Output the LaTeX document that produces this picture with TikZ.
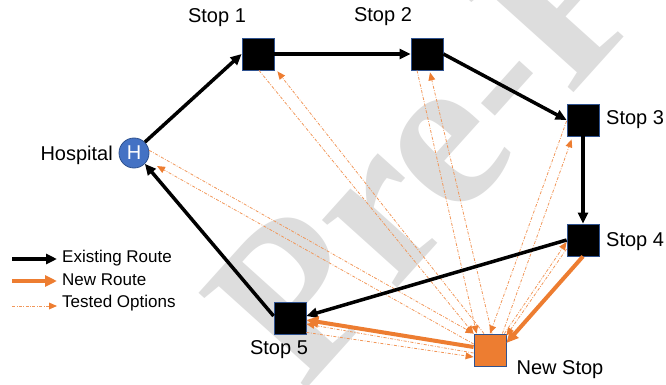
\documentclass[tikz,border=0pt]{standalone}
\usepackage{fontspec}
\setmainfont{Liberation Sans}
\newfontfamily\wmfamily{Liberation Serif}
\usetikzlibrary{arrows.meta,calc}

\definecolor{routeorange}{HTML}{ED7D31}
\definecolor{hospblue}{HTML}{4472C4}
\definecolor{edgeblue}{HTML}{2F528F}
\definecolor{wmgray}{HTML}{DDDDDD}

\tikzset{
  stopbox/.style={draw=edgeblue, line width=0.8pt, fill=black, minimum size=32pt, inner sep=0pt},
  newbox/.style={draw=edgeblue, line width=0.8pt, fill=routeorange, minimum size=32pt, inner sep=0pt},
  hosp/.style={circle, draw=edgeblue, line width=0.8pt, fill=hospblue, minimum size=30pt, inner sep=0pt,
    text=white, font=\fontsize{20}{24}\selectfont},
  lbl/.style={font=\fontsize{20}{24}\selectfont, inner sep=0pt},
  legtext/.style={font=\fontsize{17}{20}\selectfont, inner sep=0pt, anchor=west},
  existing/.style={line width=3.5pt, -{Triangle[length=11pt,width=10pt]}},
  newroute/.style={line width=4pt, routeorange, -{Triangle[length=12pt,width=11pt]}},
  tested/.style={line width=0.8pt, draw=routeorange!80!white,
    dash pattern=on 3pt off 1.5pt on 0.8pt off 1.5pt,
    -{Triangle[length=8pt,width=7pt,fill=routeorange,line width=0pt]}},
}

\begin{document}
\begin{tikzpicture}[x=1pt, y=-1pt]
  \useasboundingbox (0,0) rectangle (666,385);
  \begin{scope}
    \clip (0,0) rectangle (666,385);
    % faint background stamp
    \node[rotate=48, anchor=base west, text=wmgray, inner sep=0pt,
      font=\wmfamily\bfseries\fontsize{220}{220}\selectfont] (stamp) at (303,393) {Pre-Proof};
  \end{scope}

  % stops
  \node[hosp] (H) at (134,153) {H};
  \node[stopbox] (s1) at (258,54) {};
  \node[stopbox] (s2) at (427,54) {};
  \node[stopbox] (s3) at (583,120) {};
  \node[stopbox] (s4) at (583,240) {};
  \node[stopbox] (s5) at (290,318) {};
  \node[newbox] (ns) at (490,350) {};

  % labels
  \node[lbl] (lH) at (113,155) [anchor=east] {Hospital};
  \node[lbl] (l1) at (217,18) {Stop 1};
  \node[lbl] (l2) at (383,17) {Stop 2};
  \node[lbl, anchor=west] (l3) at (606,120) {Stop 3};
  \node[lbl, anchor=west] (l4) at (606,242) {Stop 4};
  \node[lbl] (l5) at (279,350) {Stop 5};
  \node[lbl] (lN) at (560,370) {New Stop};

  % tested options: each stop to the new stop and back
  \draw[tested] (H.10) -- (ns.north west);
  \draw[tested] ($(ns.west)+(0,-6)$) -- ($(H)+(23,13)$);
  \draw[tested] ($(s1.south)+(1,0)$) -- (ns.north west);
  \draw[tested] ($(ns.north)+(-6,0)$) -- ($(s1.south east)+(3,1)$);
  \draw[tested] ($(s2.south)+(-10,0)$) -- ($(ns.north west)+(3,0)$);
  \draw[tested] ($(ns.north)+(2,0)$) -- ($(s2.south)+(3,2)$);
  \draw[tested] ($(s3.west)+(0,1)$) -- (ns.north);
  \draw[tested] ($(ns.north east)+(-4,0)$) -- ($(s3.south west)+(5,3)$);
  \draw[tested] ($(s4.west)+(0,9)$) -- ($(ns.north east)+(0,2)$);
  \draw[tested] ($(ns.north east)+(-2,0)$) -- ($(s4.west)+(0,2)$);
  \draw[tested] ($(s5.south east)+(0,-2)$) -- ($(ns.west)+(0,7)$);
  \draw[tested] ($(ns.west)+(0,3)$) -- ($(s5.east)+(0,6)$);

  % existing route
  \draw[existing] (H.45) -- (s1.west);
  \draw[existing] (s1.east) -- (s2.west);
  \draw[existing] (s2.east) -- (s3.west);
  \draw[existing] (s3.south) -- (s4.north);
  \draw[existing] (s4.west) -- ($(s5.east)+(0,-2)$);
  \draw[existing] ($(s5.west)+(0,-2)$) -- (H.-45);

  % new route
  \draw[newroute] (s4.south) -- ($(ns.east)+(0,-7)$);
  \draw[newroute] ($(ns.west)+(0,-3)$) -- ($(s5.east)+(0,2)$);

  % legend
  \coordinate (k1a) at (12,259);
  \coordinate (k1b) at (57,259);
  \coordinate (k2a) at (12,281);
  \coordinate (k2b) at (57,281);
  \coordinate (k3a) at (12,306);
  \coordinate (k3b) at (57,306);
  \draw[existing] (k1a) -- (k1b);
  \draw[newroute] (k2a) -- (k2b);
  \draw[tested] (k3a) -- (k3b);
  \node[legtext] (t1) at (62,258) {Existing Route};
  \node[legtext] (t2) at (62,280) {New Route};
  \node[legtext] (t3) at (62,303) {Tested Options};
\end{tikzpicture}
\end{document}
